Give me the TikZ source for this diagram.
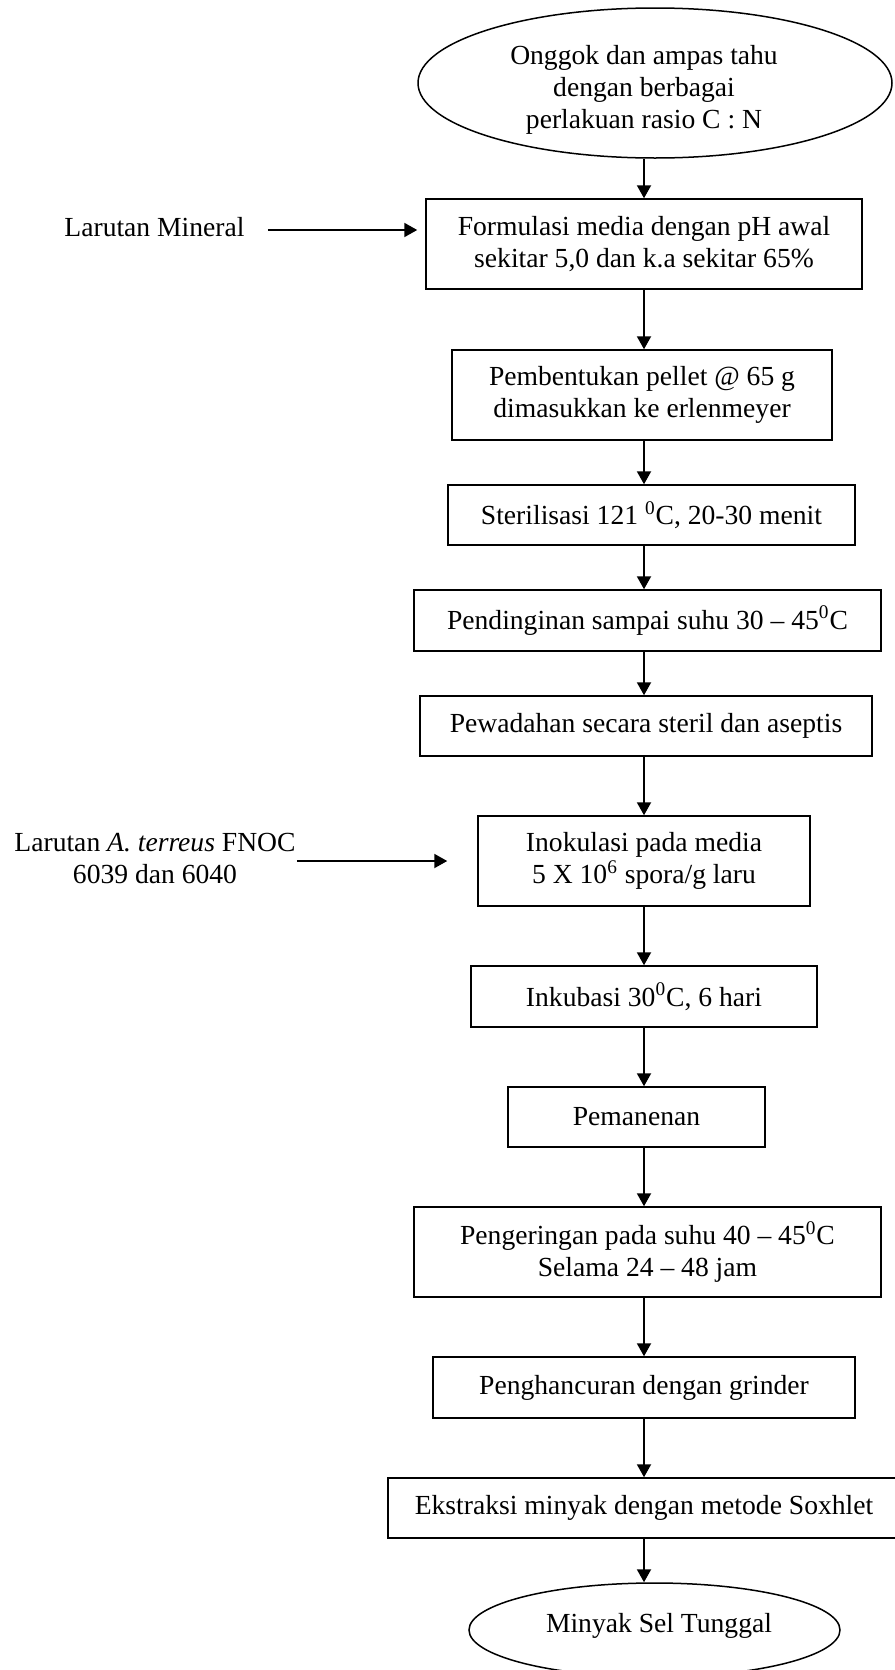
\documentclass[tikz,border=0pt]{standalone}
\usepackage{fontspec}
\setmainfont{Liberation Serif}
\usepackage{tikz}
\usetikzlibrary{shapes.geometric, arrows.meta}

\begin{document}
\begin{tikzpicture}[
        x=0.5pt,
        y=-0.5pt,
        font=\fontsize{13.8}{16}\selectfont,
        process/.style={draw, line width=0.75pt, rectangle, align=center, inner sep=0pt},
        terminal/.style={draw, line width=0.75pt, ellipse, inner sep=0pt},
        sidetext/.style={align=center, inner sep=0pt},
        arr/.style={-{Triangle[length=6.5pt, width=7pt]}, line width=1pt}
    ]
    % Page size
    \useasboundingbox (0,0) rectangle (894,1670);
    \coordinate (col) at (644,0);

    % Start
    \node[terminal, minimum width=237pt, minimum height=75pt,
          label={[align=center, xshift=-5.5pt, yshift=-3.25pt]center:{Onggok dan ampas tahu\\dengan berbagai\\perlakuan rasio C : N}}]
          (onggok) at (655,83) {};

    % Process steps
    \node[process, minimum width=218pt, minimum height=45pt] (formulasi) at (644,244)
        {Formulasi media dengan pH awal\\sekitar 5,0 dan k.a sekitar 65\%};
    \node[process, minimum width=190pt, minimum height=45pt] (pembentukan) at (642,395)
        {Pembentukan pellet @ 65 g\\dimasukkan ke erlenmeyer};
    \node[process, minimum width=203.5pt, minimum height=30pt] (sterilisasi) at (651.5,515)
        {Sterilisasi 121 \textsuperscript{0}C, 20-30 menit};
    \node[process, minimum width=233.5pt, minimum height=30.5pt] (pendinginan) at (647.5,620.5)
        {Pendinginan sampai suhu 30 -- 45\textsuperscript{0}C};
    \node[process, minimum width=226pt, minimum height=30pt] (pewadahan) at (646,726)
        {Pewadahan secara steril dan aseptis};
    \node[process, minimum width=166pt, minimum height=45pt] (inokulasi) at (644,861)
        {Inokulasi pada media\\5 X 10\textsuperscript{6} spora/g laru};
    \node[process, minimum width=173pt, minimum height=30.5pt] (inkubasi) at (644,996.5)
        {Inkubasi 30\textsuperscript{0}C, 6 hari};
    \node[process, minimum width=128.5pt, minimum height=30pt] (pemanenan) at (636.5,1117)
        {Pemanenan};
    \node[process, minimum width=233.5pt, minimum height=45pt] (pengeringan) at (647.5,1252)
        {Pengeringan pada suhu 40 -- 45\textsuperscript{0}C\\Selama 24 -- 48 jam};
    \node[process, minimum width=211pt, minimum height=30.5pt] (penghancuran) at (644,1387.5)
        {Penghancuran dengan grinder};
    \node[process, minimum width=256pt, minimum height=30pt] (ekstraksi) at (644,1508)
        {Ekstraksi minyak dengan metode Soxhlet};

    % End
    \node[terminal, minimum width=185.5pt, minimum height=47pt,
          label={[xshift=2.25pt, yshift=2pt]center:Minyak Sel Tunggal}]
          (minyak) at (654.5,1630) {};

    % Side inputs
    \node[sidetext] (mineral) at (154.5,227) {Larutan Mineral};
    \node[sidetext] (terreus) at (155,858) {Larutan \textit{A. terreus} FNOC\\6039 dan 6040};

    % Main flow
    \foreach \a/\b in {onggok/formulasi, formulasi/pembentukan, pembentukan/sterilisasi,
                       sterilisasi/pendinginan, pendinginan/pewadahan, pewadahan/inokulasi,
                       inokulasi/inkubasi, inkubasi/pemanenan, pemanenan/pengeringan,
                       pengeringan/penghancuran, penghancuran/ekstraksi, ekstraksi/minyak}
        \draw[arr] (\a.south -| col) -- (\b.north -| col);

    % Inputs from the left
    \draw[arr, shorten <=11.5pt, shorten >=4pt] ([yshift=-1.5pt]mineral.east) -- ([yshift=-1.5pt]formulasi.west |- mineral.east);
    \draw[arr, shorten <=0.5pt, shorten >=15pt] ([yshift=-1.5pt]terreus.east) -- ([yshift=-1.5pt]inokulasi.west |- terreus.east);
\end{tikzpicture}
\end{document}
